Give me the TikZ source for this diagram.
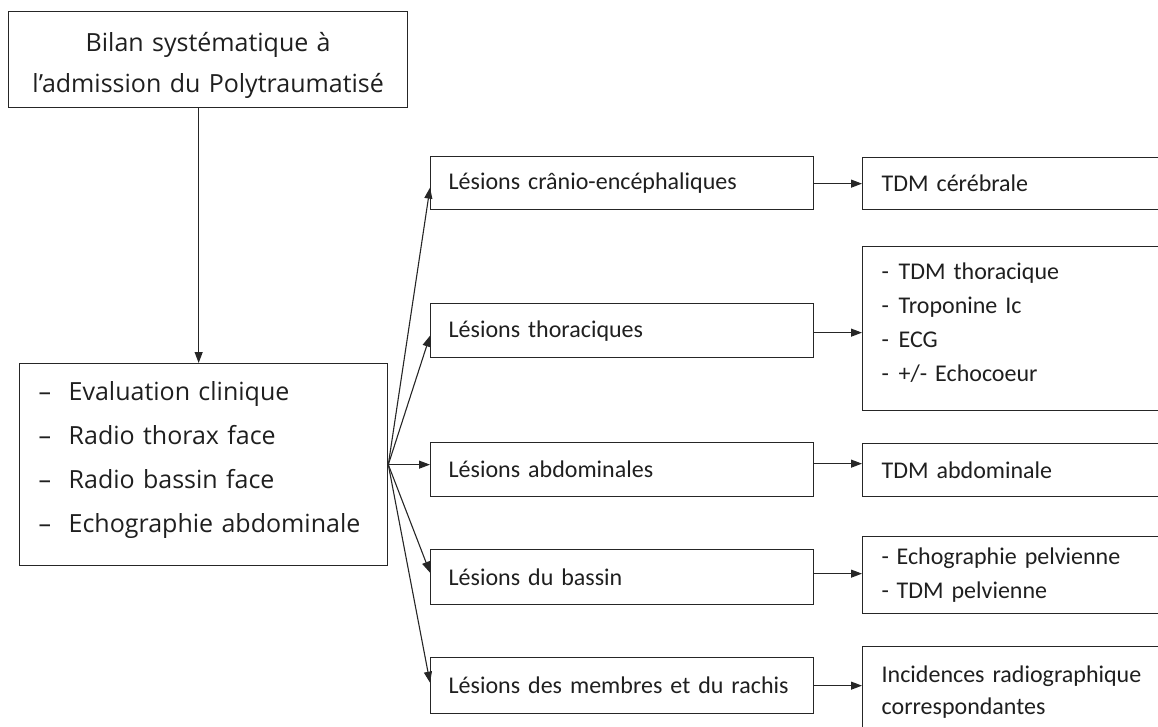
\documentclass[tikz,border=0pt]{standalone}
\usepackage{fontspec}
\setmainfont{Carlito}
\newfontfamily\osans{Open Sans}
\usetikzlibrary{arrows.meta,calc}
\begin{document}
\begin{tikzpicture}[x=1pt,y=-1pt,
  box/.style={draw=black!85, line width=1.3pt, rectangle, inner ysep=0pt, anchor=north west, text=black!88},
  arr/.style={line width=1.1pt, draw=black!85, -{Triangle[length=11pt,width=8pt]}},
  midbox/.style={box, minimum width=383pt, text width=347pt, inner xsep=18pt, align=left, font=\fontsize{24}{34}\selectfont},
  rbox/.style={box, minimum width=340pt, text width=302pt, inner xsep=19pt, align=left, font=\fontsize{24}{34}\selectfont},
  bigfont/.style={font=\osans\fontsize{25}{41}\selectfont}]
\useasboundingbox (0,0) rectangle (1158,727);
\clip (0,0) rectangle (1158,727);

\node[box, bigfont, minimum width=399pt, minimum height=96pt, text width=390pt, inner xsep=4.5pt, align=center] (top) at (8,11)
  {\rule{0pt}{30pt}Bilan systématique à\\l’admission du Polytraumatisé};

\node[box, font=\osans\fontsize{25}{44}\selectfont, minimum width=368pt, minimum height=202pt, text width=330pt, inner xsep=19pt, align=left] (left) at (19,363)
  {\makebox[30pt][l]{–}Evaluation clinique\\
   \makebox[30pt][l]{–}Radio thorax face\\
   \makebox[30pt][l]{–}Radio bassin face\\
   \makebox[30pt][l]{–}Echographie abdominale\rule[-15pt]{0pt}{1pt}};

\node[midbox, minimum height=53pt] (m1) at (430,156) {Lésions crânio-encéphaliques};
\node[midbox, minimum height=54pt] (m2) at (430,303) {Lésions thoraciques};
\node[midbox, minimum height=54pt] (m3) at (430,442) {Lésions abdominales};
\node[midbox, minimum height=55pt] (m4) at (430,549) {Lésions du bassin};
\node[midbox, minimum height=56pt] (m5) at (430,657) {Lésions des membres et du rachis};

\node[rbox, minimum height=52pt] (r1) at (862,157) {TDM cérébrale};
\node[rbox, minimum height=164pt] (r2) at (862,246)
  {\makebox[17pt][l]{-}TDM thoracique\\
   \makebox[17pt][l]{-}Troponine Ic\\
   \makebox[17pt][l]{-}ECG\\
   \makebox[17pt][l]{-}+/- Echocoeur\rule[-12pt]{0pt}{1pt}};
\node[rbox, minimum height=53pt] (r3) at (862,443) {TDM abdominale};
\node[rbox, minimum height=77pt] (r4) at (862,536)
  {\makebox[15pt][l]{-}Echographie pelvienne\\
   \makebox[15pt][l]{-}TDM pelvienne};
\node[rbox, font=\fontsize{24}{32}\selectfont, minimum height=90pt] (r5) at (862,646)
  {Incidences radiographique\\correspondantes};

% top to left
\path ([xshift=-9.5pt]top.south) coordinate (a0);
\draw[arr] (a0) -- (a0 |- left.north);

% fan
\draw[arr] (left.east) -- ($(m1.west)+(0,4.5)$);
\draw[arr] (left.east) -- ($(m2.west)+(0,5)$);
\draw[arr] (left.east) -- (m3.west |- left.east);
\draw[arr] (left.east) -- ($(m4.west)+(0,-4.5)$);
\draw[arr] (left.east) -- ($(m5.west)+(0,-3)$);

% middle to right
\path ($(m1.east)+(0,0.5)$) coordinate (b1);
\path ($(m2.east)+(0,2)$) coordinate (b2);
\path ($(m3.east)+(0,-6)$) coordinate (b3);
\path ($(m4.east)+(0,-3.5)$) coordinate (b4);
\path (m5.east) coordinate (b5);
\draw[arr] (b1) -- (b1 -| r1.west);
\draw[arr] (b2) -- (b2 -| r2.west);
\draw[arr] (b3) -- (b3 -| r3.west);
\draw[arr] (b4) -- (b4 -| r4.west);
\draw[arr] (b5) -- (b5 -| r5.west);
\end{tikzpicture}
\end{document}
